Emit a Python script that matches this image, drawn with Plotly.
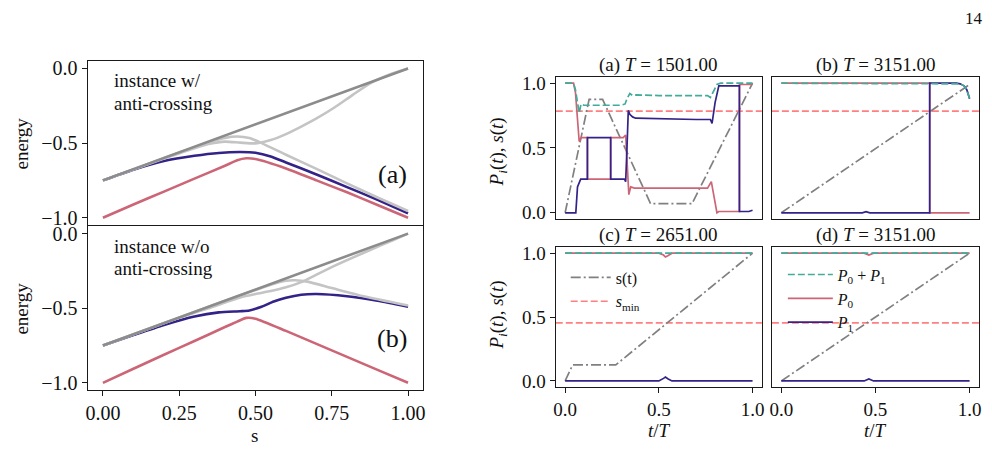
import plotly.graph_objects as go

W, H = 992, 468
FONT = "Liberation Serif"
RED = "#CC6677"
BLUE = "#332288"
TEAL = "#44AA99"
SGRAY = "#808080"
SMINC = "#ff8080"
DARKG = "#8c8c8c"
LIGHTG = "#c4c4c4"

# ---------------- left panels: energy spectra ----------------
S_DARK = [0.0, 1.0]
E_DARK = [-0.75, 0.0]

# (a) instance with anti-crossing
S_A_G1 = [0, 0.15, 0.3, 0.35, 0.4, 0.44, 0.48, 0.52, 0.6, 0.7, 0.8, 0.9, 1.0]
E_A_G1 = [-0.75, -0.6375, -0.527, -0.492, -0.465, -0.456, -0.466, -0.50, -0.578, -0.673, -0.77, -0.865, -0.955]
S_A_G2 = [0, 0.15, 0.3, 0.35, 0.4, 0.45, 0.5, 0.55, 0.6, 0.65, 0.7, 0.76, 0.82, 0.88, 0.94, 1.0]
E_A_G2 = [-0.75, -0.64, -0.535, -0.505, -0.49, -0.497, -0.502, -0.48, -0.44, -0.39, -0.335, -0.26, -0.175, -0.095, -0.04, 0.0]
S_A_BLUE = [0, 0.1, 0.2, 0.3, 0.38, 0.45, 0.5, 0.55, 0.6, 0.7, 0.8, 0.9, 1.0]
E_A_BLUE = [-0.75, -0.678, -0.62, -0.585, -0.566, -0.56, -0.565, -0.59, -0.63, -0.71, -0.795, -0.88, -0.97]
S_A_RED = [0, 0.1, 0.2, 0.3, 0.4, 0.44, 0.47, 0.5, 0.6, 0.7, 0.8, 0.9, 1.0]
E_A_RED = [-1.0, -0.912, -0.825, -0.738, -0.652, -0.615, -0.602, -0.607, -0.67, -0.75, -0.83, -0.915, -1.0]

# (b) instance without anti-crossing
S_B_G1 = [0, 0.3, 0.45, 0.5, 0.55, 0.6, 0.63, 0.67, 0.75, 0.85, 1.0]
E_B_G1 = [-0.75, -0.525, -0.413, -0.378, -0.342, -0.316, -0.313, -0.322, -0.365, -0.418, -0.482]
S_B_G2 = [0, 0.2, 0.3, 0.35, 0.4, 0.45, 0.5, 0.55, 0.6, 0.65, 0.7, 0.76, 0.87, 0.95, 1.0]
E_B_G2 = [-0.75, -0.6, -0.53, -0.498, -0.462, -0.428, -0.405, -0.385, -0.36, -0.325, -0.275, -0.215, -0.115, -0.045, 0.0]
S_B_BLUE = [0, 0.1, 0.2, 0.3, 0.38, 0.45, 0.48, 0.52, 0.56, 0.6, 0.65, 0.7, 0.8, 0.9, 1.0]
E_B_BLUE = [-0.75, -0.68, -0.612, -0.555, -0.528, -0.52, -0.515, -0.49, -0.455, -0.43, -0.41, -0.405, -0.42, -0.45, -0.49]
S_B_RED = [0, 0.1, 0.2, 0.3, 0.4, 0.44, 0.47, 0.5, 0.6, 0.7, 0.8, 0.9, 1.0]
E_B_RED = [-1.0, -0.906, -0.812, -0.72, -0.626, -0.59, -0.565, -0.57, -0.652, -0.739, -0.826, -0.913, -1.0]

# ---------------- right panels: populations ----------------
# (a) T = 1501.00
TA_S = [0, 0.128, 0.2, 0.456, 0.677, 1.0]
SA_S = [0, 0.875, 0.875, 0.07, 0.07, 1.0]
TA_P0 = [0, 0.045, 0.055, 0.065, 0.075, 0.085, 0.119, 0.119, 0.243, 0.243, 0.31, 0.323, 0.33, 0.34, 0.35, 0.37,
         0.45, 0.6, 0.76, 0.78, 0.795, 0.81, 0.82, 0.85, 0.93, 0.93, 1.0]
PA_P0 = [1.0, 1.0, 0.93, 0.7, 0.55, 0.58, 0.58, 0.26, 0.26, 0.58, 0.58, 0.60, 0.4, 0.14, 0.2, 0.19,
         0.19, 0.19, 0.19, 0.24, 0.12, 0.0, 0.01, 0.01, 0.01, 0.99, 0.99]
TA_P1 = [0, 0.057, 0.066, 0.075, 0.083, 0.119, 0.119, 0.243, 0.243, 0.317, 0.323, 0.33, 0.337, 0.345, 0.36, 0.376,
         0.5, 0.7, 0.775, 0.784, 0.80, 0.82, 0.93, 0.93, 0.98, 1.0]
PA_P1 = [0, 0, 0.2, 0.24, 0.26, 0.26, 0.58, 0.58, 0.26, 0.26, 0.24, 0.5, 0.79, 0.76, 0.74, 0.73,
         0.725, 0.72, 0.72, 0.69, 0.85, 0.98, 0.98, 0.01, 0.01, 0.02]
TA_SUM = [0, 0.045, 0.055, 0.065, 0.075, 0.085, 0.1, 0.3, 0.32, 0.33, 0.345, 0.36, 0.38, 0.5, 0.76, 0.775, 0.79,
          0.81, 0.83, 1.0]
PA_SUM = [1.0, 1.0, 0.95, 0.85, 0.77, 0.84, 0.83, 0.83, 0.84, 0.88, 0.92, 0.905, 0.91, 0.905, 0.905, 0.89, 0.93,
          0.99, 1.0, 1.0]
SMIN_AB = 0.784

# (b) T = 3151.00
TB_S = [0, 1.0]
SB_S = [0, 0.99]
TB_P0 = [0, 0.44, 0.455, 0.47, 0.788, 0.788, 1.0]
PB_P0 = [1.0, 1.0, 0.995, 1.0, 1.0, 0.0, 0.0]
TB_P1 = [0, 0.43, 0.45, 0.47, 0.788, 0.788, 0.93, 0.95, 0.97, 0.985, 1.0]
PB_P1 = [0, 0, 0.008, 0, 0, 1.0, 1.0, 0.995, 0.98, 0.95, 0.88]
TB_SUM = [0, 0.93, 0.95, 0.97, 0.985, 1.0]
PB_SUM = [1.0, 1.0, 0.995, 0.98, 0.95, 0.88]

# (c) T = 2651.00
TC_S = [0, 0.04, 0.27, 1.0]
SC_S = [0, 0.125, 0.125, 1.0]
TC_P0 = [0, 0.5, 0.525, 0.535, 0.548, 0.57, 1.0]
PC_P0 = [1.0, 1.0, 0.985, 0.97, 0.98, 1.0, 1.0]
TC_P1 = [0, 0.5, 0.525, 0.535, 0.55, 0.57, 1.0]
PC_P1 = [0, 0, 0.02, 0.03, 0.015, 0.0, 0]
TC_SUM = [0, 1.0]
PC_SUM = [1.0, 1.0]
SMIN_CD = 0.454

# (d) T = 3151.00
TD_S = [0, 1.0]
SD_S = [0, 1.0]
TD_P0 = [0, 0.44, 0.465, 0.49, 1.0]
PD_P0 = [1.0, 1.0, 0.985, 1.0, 1.0]
TD_P1 = [0, 0.44, 0.465, 0.49, 1.0]
PD_P1 = [0, 0, 0.015, 0, 0]
TD_SUM = [0, 0.45, 0.465, 0.48, 1.0]
PD_SUM = [1.0, 1.0, 0.995, 1.0, 1.0]

TITLES = ["(a) <i>T</i> = 1501.00", "(b) <i>T</i> = 3151.00", "(c) <i>T</i> = 2651.00", "(d) <i>T</i> = 3151.00"]


def xd(a, b):
    return [a / W, b / W]


def yd(top, bot):
    return [1 - bot / H, 1 - top / H]


fig = go.Figure()

# ---- left energy panels ----
LW = 2.6
for ax, data in [("", (S_A_RED, E_A_RED, S_A_BLUE, E_A_BLUE, S_A_G1, E_A_G1, S_A_G2, E_A_G2)),
                 ("2", (S_B_RED, E_B_RED, S_B_BLUE, E_B_BLUE, S_B_G1, E_B_G1, S_B_G2, E_B_G2))]:
    sr, er, sb, eb, s1, e1, s2, e2 = data
    xa, ya = "x" + ax, "y" + ax
    for xs, ys, col in [(sr, er, RED), (sb, eb, BLUE), (s1, e1, LIGHTG), (s2, e2, LIGHTG), (S_DARK, E_DARK, DARKG)]:
        fig.add_trace(go.Scatter(x=xs, y=ys, mode="lines", xaxis=xa, yaxis=ya, showlegend=False,
                                 line=dict(color=col, width=LW, shape="spline", smoothing=0.6)))

# ---- right population panels ----
panels = [
    ("3", TA_S, SA_S, TA_P0, PA_P0, TA_P1, PA_P1, TA_SUM, PA_SUM, SMIN_AB),
    ("4", TB_S, SB_S, TB_P0, PB_P0, TB_P1, PB_P1, TB_SUM, PB_SUM, SMIN_AB),
    ("5", TC_S, SC_S, TC_P0, PC_P0, TC_P1, PC_P1, TC_SUM, PC_SUM, SMIN_CD),
    ("6", TD_S, SD_S, TD_P0, PD_P0, TD_P1, PD_P1, TD_SUM, PD_SUM, SMIN_CD),
]
RLW = 1.7
for ax, ts, ss, t0, p0, t1, p1, tsum, psum, smin in panels:
    xa, ya = "x" + ax, "y" + ax
    legc = ax == "5"
    legd = ax == "6"
    fig.add_trace(go.Scatter(x=[-0.05, 1.05], y=[smin, smin], mode="lines", xaxis=xa, yaxis=ya,
                             line=dict(color=SMINC, width=RLW, dash="7px,3px"),
                             name="<i>s</i><sub>min</sub>", showlegend=legc, legend="legend", legendrank=2))
    fig.add_trace(go.Scatter(x=ts, y=ss, mode="lines", xaxis=xa, yaxis=ya,
                             line=dict(color=SGRAY, width=RLW, dash="10px,3px,2px,3px"),
                             name="s(t)", showlegend=legc, legend="legend", legendrank=1))
    fig.add_trace(go.Scatter(x=t0, y=p0, mode="lines", xaxis=xa, yaxis=ya,
                             line=dict(color=RED, width=RLW),
                             name="<i>P</i><sub>0</sub>", showlegend=legd, legend="legend2", legendrank=2))
    fig.add_trace(go.Scatter(x=t1, y=p1, mode="lines", xaxis=xa, yaxis=ya,
                             line=dict(color=BLUE, width=RLW),
                             name="<i>P</i><sub>1</sub>", showlegend=legd, legend="legend2", legendrank=3))
    fig.add_trace(go.Scatter(x=tsum, y=psum, mode="lines", xaxis=xa, yaxis=ya,
                             line=dict(color=TEAL, width=RLW, dash="7px,3px"),
                             name="<i>P</i><sub>0</sub> + <i>P</i><sub>1</sub>", showlegend=legd,
                             legend="legend2", legendrank=1))

axis_common = dict(showline=True, mirror=True, linecolor="#1a1a1a", linewidth=1.3, showgrid=False,
                   zeroline=False, ticks="outside", ticklen=5, tickwidth=1.1, tickcolor="#1a1a1a",
                   tickfont=dict(family=FONT, size=19, color="#111"))
left_tick = dict(family=FONT, size=20, color="#111")

layout = dict(
    width=W, height=H, margin=dict(l=0, r=0, t=0, b=0),
    paper_bgcolor="white", plot_bgcolor="white",
    font=dict(family=FONT, size=17, color="#111"),
)

# left top
layout["xaxis"] = dict(axis_common, domain=xd(86, 423), range=[-0.05, 1.05], anchor="y",
                       tickvals=[0, 0.25, 0.5, 0.75, 1.0], showticklabels=False, ticks="")
layout["yaxis"] = dict(axis_common, domain=yd(58, 225), range=[-1.05, 0.05], anchor="x",
                       tickvals=[0, -0.5, -1.0], tickformat=".1f", tickfont=left_tick)
# left bottom
layout["xaxis2"] = dict(axis_common, domain=xd(86, 423), range=[-0.05, 1.05], anchor="y2",
                        tickvals=[0, 0.25, 0.5, 0.75, 1.0], tickformat=".2f", tickfont=left_tick)
layout["yaxis2"] = dict(axis_common, domain=yd(226, 393), range=[-1.05, 0.05], anchor="x2",
                        tickvals=[0, -0.5, -1.0], tickformat=".1f", tickfont=left_tick)

rdoms = {"3": ((556, 763), (74, 219)), "4": ((773, 981), (74, 219)),
         "5": ((556, 763), (247, 390)), "6": ((773, 981), (247, 390))}
for ax, ((x0, x1), (y0, y1)) in rdoms.items():
    bottom = ax in ("5", "6")
    left = ax in ("3", "5")
    layout["xaxis" + ax] = dict(axis_common, domain=xd(x0, x1), range=[-0.05, 1.05], anchor="y" + ax,
                                tickvals=[0, 0.5, 1.0], tickformat=".1f", showticklabels=bottom,
                                ticks="outside" if bottom else "")
    layout["yaxis" + ax] = dict(axis_common, domain=yd(y0, y1), range=[-0.05, 1.05], anchor="x" + ax,
                                tickvals=[0, 0.5, 1.0], tickformat=".1f", showticklabels=left,
                                ticks="outside" if left else "")

layout["legend"] = dict(x=566 / W, y=1 - 261 / H, xanchor="left", yanchor="top", bgcolor="rgba(0,0,0,0)",
                        font=dict(family=FONT, size=16, color="#111"), tracegroupgap=0, itemwidth=40)
layout["legend2"] = dict(x=784 / W, y=1 - 258 / H, xanchor="left", yanchor="top", bgcolor="rgba(0,0,0,0)",
                         font=dict(family=FONT, size=16, color="#111"), tracegroupgap=0, itemwidth=45)

ann = []


def text(x, y, t, size=19, angle=0, xanchor="center"):
    ann.append(dict(x=x / W, y=1 - y / H, xref="paper", yref="paper", text=t, showarrow=False,
                    textangle=angle, xanchor=xanchor, yanchor="middle",
                    font=dict(family=FONT, size=size, color="#111")))


text(110, 78, "instance w/", xanchor="left")
text(110, 101, "anti-crossing", xanchor="left")
text(110, 247, "instance w/o", xanchor="left")
text(110, 269, "anti-crossing", xanchor="left")
text(392, 173, "(a)", size=26)
text(392, 340, "(b)", size=26)
text(20, 142, "energy", angle=-90)
text(20, 310, "energy", angle=-90)
text(254, 439, "s")
text(659, 62, TITLES[0])
text(877, 62, TITLES[1])
text(659, 235, TITLES[2])
text(877, 235, TITLES[3])
text(498, 150, "<i>P<sub>i</sub></i>(<i>t</i>), <i>s</i>(<i>t</i>)", angle=-90)
text(498, 316, "<i>P<sub>i</sub></i>(<i>t</i>), <i>s</i>(<i>t</i>)", angle=-90)
text(660, 434, "<i>t</i>/<i>T</i>")
text(877, 434, "<i>t</i>/<i>T</i>")
text(976, 15, "14", size=17)

layout["annotations"] = ann
fig.update_layout(**layout)
fig.write_html("out.html")
